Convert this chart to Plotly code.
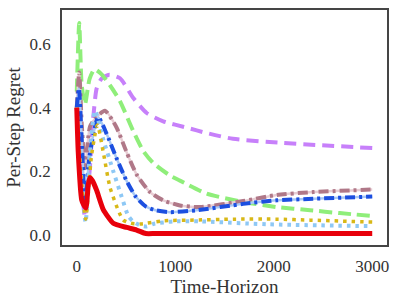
import plotly.graph_objects as go

# ---- data ----
red_x = [0, 15, 50, 70, 93, 117, 134, 160, 202, 269, 371, 506, 608, 700, 800, 1500, 3000]
red_y = [0.40, 0.26, 0.11, 0.095, 0.085, 0.16, 0.18, 0.17, 0.14, 0.08, 0.037, 0.024, 0.016, 0.005, 0.005, 0.005, 0.005]

lblue_x = [0, 40, 90, 130, 185, 269, 371, 456, 523, 574, 650, 710, 777, 980, 1250, 1930, 3000]
lblue_y = [0.40, 0.20, 0.04, 0.25, 0.39, 0.30, 0.20, 0.12, 0.06, 0.042, 0.03, 0.027, 0.035, 0.043, 0.043, 0.034, 0.028]

gold_x = [0, 40, 90, 150, 210, 269, 337, 421, 472, 550, 650, 878, 1150, 1590, 2030, 2370, 3000]
gold_y = [0.40, 0.20, 0.05, 0.25, 0.345, 0.26, 0.15, 0.078, 0.047, 0.037, 0.035, 0.045, 0.047, 0.05, 0.05, 0.047, 0.041]

blue_x = [0, 22, 50, 85, 130, 218, 300, 405, 506, 600, 700, 800, 946, 1217, 1690, 2030, 2400, 3000]
blue_y = [0.40, 0.46, 0.30, 0.10, 0.25, 0.37, 0.32, 0.24, 0.17, 0.12, 0.09, 0.078, 0.072, 0.078, 0.098, 0.109, 0.114, 0.121]

mauve_x = [0, 25, 50, 85, 134, 200, 286, 400, 506, 608, 743, 878, 1048, 1250, 1690, 2030, 2400, 3000]
mauve_y = [0.40, 0.51, 0.35, 0.21, 0.34, 0.37, 0.39, 0.34, 0.26, 0.19, 0.135, 0.109, 0.093, 0.088, 0.107, 0.126, 0.135, 0.143]

green_x = [0, 25, 50, 83, 130, 180, 250, 337, 439, 574, 675, 777, 946, 1048, 1319, 1690, 2030, 2370, 2670, 3000]
green_y = [0.45, 0.665, 0.47, 0.41, 0.49, 0.52, 0.505, 0.47, 0.42, 0.326, 0.264, 0.226, 0.187, 0.171, 0.13, 0.104, 0.088, 0.078, 0.069, 0.06]

purple_x = [0, 40, 83, 130, 168, 202, 250, 330, 439, 574, 710, 878, 1116, 1319, 1586, 2093, 3000]
purple_y = [0.40, 0.20, 0.057, 0.20, 0.37, 0.46, 0.49, 0.503, 0.492, 0.43, 0.383, 0.357, 0.337, 0.32, 0.302, 0.289, 0.273]

x_ticks = [0, 1000, 2000, 3000]
y_ticks = [0.0, 0.2, 0.4, 0.6]

FONT = "Liberation Serif, DejaVu Serif, serif"

fig = go.Figure()

def add(x, y, color, width, dash, smooth=0.6):
    fig.add_trace(go.Scatter(x=x, y=y, mode="lines",
                             line=dict(color=color, width=width, dash=dash,
                                       shape="spline", smoothing=smooth),
                             showlegend=False, hoverinfo="skip"))

add(purple_x, purple_y, "#c780fa", 4, "12px,7px")
add(green_x, green_y, "#8fee7a", 4, "13px,6px")
# faint underlay for dash-dot series
add(mauve_x, mauve_y, "#e8cdd4", 2.5, "solid")
add(mauve_x, mauve_y, "#b07888", 4, "10px,4px,3px,4px")
add(blue_x, blue_y, "#a9c8f5", 2.5, "solid")
add(blue_x, blue_y, "#1c4fe0", 4, "10px,4px,3px,4px")
add(lblue_x, lblue_y, "#8ec8f5", 4, "3.5px,5px")
add(gold_x, gold_y, "#d8b817", 3.5, "3.5px,5px")
add(red_x, red_y, "#e8000b", 5, "solid", 0.5)

axis_common = dict(showgrid=False, zeroline=False, showline=True, mirror=True,
                   linecolor="#454545", linewidth=1.5, ticks="",
                   tickfont=dict(family=FONT, size=17, color="#333333"))

fig.update_layout(
    width=398, height=300,
    margin=dict(l=62, r=11, t=8, b=55),
    paper_bgcolor="white", plot_bgcolor="white",
    font=dict(family=FONT, size=17, color="#333333"),
    xaxis=dict(range=[-150, 3150], tickvals=x_ticks,
               ticktext=[str(v) for v in x_ticks], ticklabelstandoff=5,
               title=dict(text="Time-Horizon", font=dict(family=FONT, size=19, color="#333333"), standoff=3),
               **axis_common),
    yaxis=dict(range=[-0.031, 0.706], tickvals=y_ticks,
               ticktext=[f"{v:.1f}" for v in y_ticks], ticklabelstandoff=6,
               title=dict(text="Per-Step Regret", font=dict(family=FONT, size=19, color="#333333"), standoff=4),
               **axis_common),
)

fig.write_html("out.html", config={"displayModeBar": False},
               post_script="document.body.style.margin='0';document.body.style.overflow='hidden';")
